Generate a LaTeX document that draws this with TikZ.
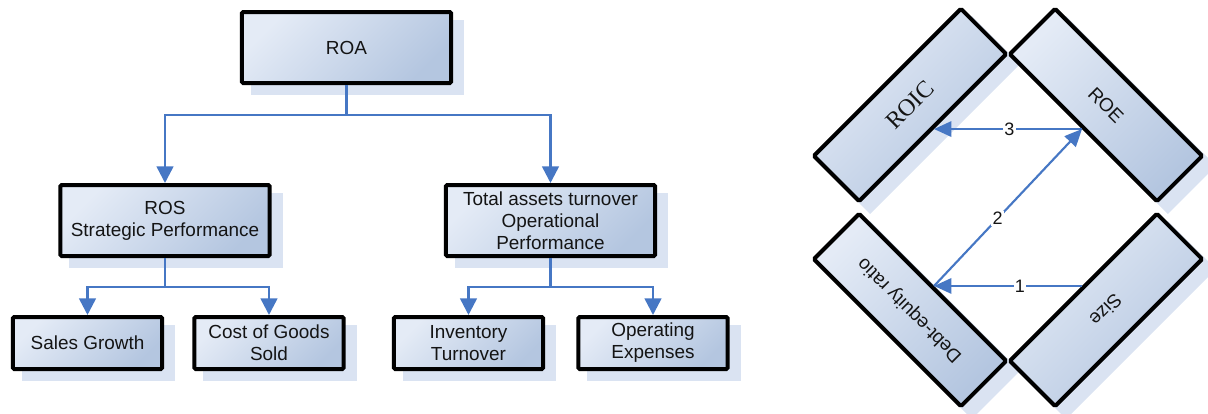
\documentclass[tikz,border=0pt]{standalone}
\usepackage{fontspec}
\setmainfont{Liberation Sans}
\newfontfamily\serifface{Liberation Serif}
\usetikzlibrary{arrows.meta,calc}
\pgfdeclarelayer{background}
\pgfsetlayers{background,main}
\definecolor{boxlight}{HTML}{E4EBF6}
\definecolor{boxdark}{HTML}{B4C6E0}
\definecolor{shadowc}{HTML}{DAE3F2}
\definecolor{linkc}{HTML}{4677C4}
\definecolor{inkc}{HTML}{141414}
\tikzset{
  pbox/.style={draw=black, line width=3pt, rounded corners=1pt,
    top color=boxlight, bottom color=boxdark, shading angle=45,
    text=inkc, align=center, inner sep=0pt,
    font=\fontsize{14.2}{16.5}\selectfont},
  bigbox/.style={pbox, minimum width=157pt, minimum height=53.25pt},
  leafbox/.style={pbox, minimum width=112pt, minimum height=39pt},
  sidebox/.style={pbox, minimum width=156pt, minimum height=48pt},
  tree/.style={draw=linkc, line width=1.9pt, -{Triangle[length=12.5pt,width=12.5pt]}},
  cycleflow/.style={draw=linkc, line width=1.6pt, -{Triangle[length=13pt,width=11.5pt]}},
  tag/.style={fill=white, inner sep=1pt, text=inkc, font=\fontsize{13.5}{15}\selectfont},
}
\begin{document}
\begin{tikzpicture}[x=0.75pt, y=-0.75pt]
\useasboundingbox (0,0) rectangle (1208,414);

% ---- ROA tree ----
\node[bigbox] (roa) at (346.5,47.5) {ROA};
\node[bigbox] (ros) at (165,220.5) {ROS\\Strategic Performance};
\node[bigbox] (tat) at (550.5,220.5) {Total assets turnover\\Operational\\Performance};
\node[leafbox] (sg) at (87.5,343) {Sales Growth};
\node[leafbox] (cogs) at (269,343) {Cost of Goods\\Sold};
\node[leafbox] (it) at (468.5,343) {Inventory\\Turnover};
\node[leafbox] (oe) at (653,343) {Operating\\Expenses};

\draw[tree] (roa.south) -- ++(0,30) -| (ros.north);
\draw[tree] (roa.south) -- ++(0,30) -| (tat.north);
\draw[tree] (ros.south) -- ++(0,29) -| (sg.north);
\draw[tree] (ros.south) -- ++(0,29) -| (cogs.north);
\draw[tree] (tat.south) -- ++(0,29) -| (it.north);
\draw[tree] (tat.south) -- ++(0,29) -| (oe.north);

% ---- ratio diamond ----
\node[sidebox, rotate=45, font=\serifface\fontsize{18}{20}\selectfont] (roic) at (910,105) {ROIC};
\node[sidebox, rotate=-45] (roe) at (1106,105) {ROE};
\node[sidebox, rotate=135] (der) at (910,310) {Debt-equity ratio};
\node[sidebox, rotate=-135] (size) at (1106,310) {Size};

\draw[cycleflow] (size.south) -- node[tag, pos=0.42] {1} (der.south);
\draw[cycleflow] (der.south) -- node[tag, pos=0.43] {2} (roe.south);
\draw[cycleflow] (roe.south) -- node[tag, pos=0.49] {3} (roic.south);

% ---- drop shadows ----
\begin{pgfonlayer}{background}
\foreach \n in {roa,ros,tat,sg,cogs,it,oe,roic,roe,der,size}
  \fill[shadowc] ([shift={(11,10)}]\n.north west) -- ([shift={(11,10)}]\n.north east)
    -- ([shift={(11,10)}]\n.south east) -- ([shift={(11,10)}]\n.south west) -- cycle;
\end{pgfonlayer}
\end{tikzpicture}
\end{document}
